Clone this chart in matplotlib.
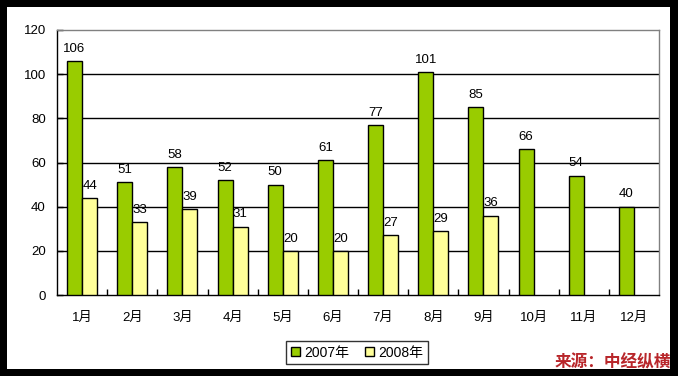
import matplotlib
matplotlib.use("Agg")
import matplotlib.pyplot as plt
from matplotlib.patches import Rectangle
import numpy as np

FAM = ['Liberation Sans', 'Noto Sans CJK SC', 'DejaVu Sans']
plt.rcParams['font.family'] = FAM

months = ['1月', '2月', '3月', '4月', '5月', '6月', '7月', '8月', '9月', '10月', '11月', '12月']
v2007 = [106, 51, 58, 52, 50, 61, 77, 101, 85, 66, 54, 40]
v2008 = [44, 33, 39, 31, 20, 20, 27, 29, 36]
series_names = ['2007年', '2008年']
yticks = [0, 20, 40, 60, 80, 100, 120]

W, H = 678, 376
fig = plt.figure(figsize=(W / 100, H / 100), dpi=100, facecolor='black')
fig.patches.append(Rectangle((7 / W, 7 / H), 663 / W, 362 / H, transform=fig.transFigure,
                             facecolor='white', edgecolor='none', zorder=-10))

ax = fig.add_axes([57 / W, 81 / H, 602 / W, 265 / H])
ax.set_facecolor('white')

x = np.arange(len(months))
bw = 0.3
g = '#99CC00'
yl = '#FFFF99'
FS = 9.5
ax.bar(x - bw / 2, v2007, bw, color=g, edgecolor='black', linewidth=1, zorder=3, label=series_names[0])
x8 = np.arange(len(v2008))
ax.bar(x8 + bw / 2, v2008, bw, color=yl, edgecolor='black', linewidth=1, zorder=3, label=series_names[1])

for xi, v in zip(x, v2007):
    ax.annotate(str(v), (xi - bw / 2, v), xytext=(0, 4.5), textcoords='offset points',
                ha='center', va='bottom', fontsize=FS, color='black', zorder=4)
for xi, v in zip(x8, v2008):
    ax.annotate(str(v), (xi + bw / 2, v), xytext=(0, 4.5), textcoords='offset points',
                ha='center', va='bottom', fontsize=FS, color='black', zorder=4)

ax.set_xlim(-0.5, len(months) - 0.5)
ax.set_ylim(0, 120)
ax.set_yticks(yticks)
ax.set_yticklabels([str(t) for t in yticks], fontsize=FS)
for t in yticks[1:-1]:
    ax.axhline(t, color='black', linewidth=1, zorder=1)

ax.set_xticks(x)
ax.set_xticklabels(months, fontsize=FS)
ax.tick_params(axis='x', length=0, pad=12)
ax.set_xticks(np.arange(0.5, len(months) - 0.5, 1), minor=True)
ax.tick_params(axis='x', which='minor', direction='in', length=4, width=1, color='black')
ax.tick_params(axis='y', direction='in', length=4, width=1, pad=8)

ax.spines['left'].set_color('black')
ax.spines['bottom'].set_color('black')
ax.spines['top'].set_color('#808080')
ax.spines['right'].set_color('#808080')
for s in ax.spines.values():
    s.set_linewidth(1)

leg = fig.legend(loc='center', bbox_to_anchor=(357 / W, 1 - 352.5 / H), ncol=2,
                 frameon=True, fancybox=False, edgecolor='black', handlelength=0.65,
                 handleheight=0.65, handletextpad=0.3, columnspacing=1.1, borderpad=0.35,
                 borderaxespad=0, prop={'family': FAM, 'size': 10})
leg.get_frame().set_linewidth(1)

fig.text(671 / W, 1 - 362 / H, '来源：中经纵横', ha='right', va='center', fontsize=12,
         color='#B8262A', fontweight='bold', style='italic',
         family=['Noto Sans CJK SC'])

fig.savefig('out.png', dpi=100, facecolor='black')
